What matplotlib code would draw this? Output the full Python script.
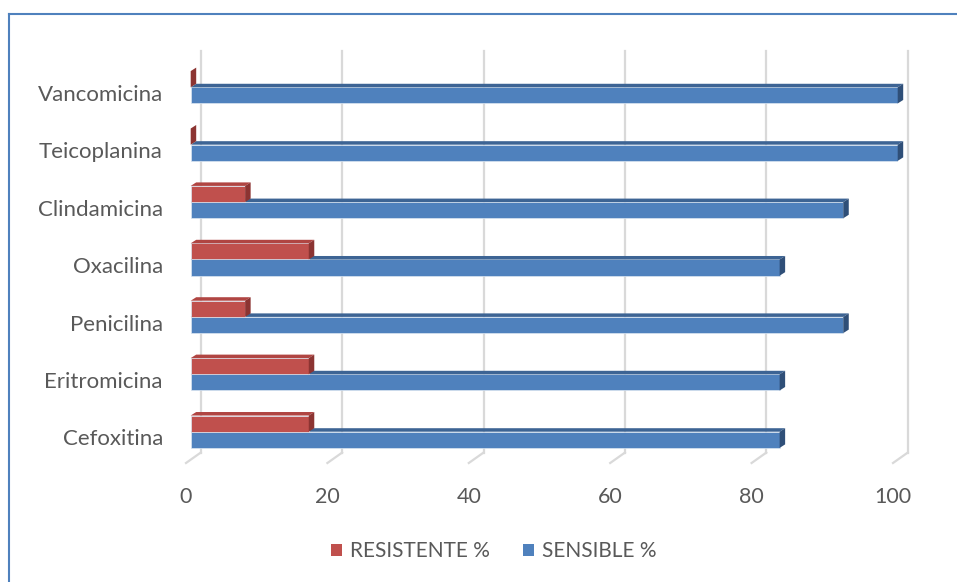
import numpy as np
import matplotlib
matplotlib.use("Agg")
import matplotlib.pyplot as plt
from matplotlib.patches import Polygon, Rectangle
from matplotlib.lines import Line2D
from matplotlib import transforms

antibiotics = ["Cefoxitina", "Eritromicina", "Penicilina", "Oxacilina",
               "Clindamicina", "Teicoplanina", "Vancomicina"]
resistente = [16.7, 16.7, 7.7, 16.7, 7.7, 0, 0]
sensible = [83.3, 83.3, 92.3, 83.3, 92.3, 100, 100]
x_ticks = [0, 20, 40, 60, 80, 100]

W, H = 957, 582
# axes box (bar plane) in pixels, measured from top-left
ax_l, ax_r, ax_t, ax_b = 190.7, 897.7, 58, 459.6
ylim = (-0.486, 6.51)

fig = plt.figure(figsize=(W / 100, H / 100), dpi=100)
ax = fig.add_axes([ax_l / W, 1 - ax_b / H, (ax_r - ax_l) / W, (ax_b - ax_t) / H])
ax.set_xlim(0, 100)
ax.set_ylim(*ylim)
for s in ax.spines.values():
    s.set_visible(False)

# pixel -> data conversion
ux = 100 / (ax_r - ax_l)
uy = (ylim[1] - ylim[0]) / (ax_b - ax_t)

grid_c = "#D9D9D9"
# back plane offset (+10, +7 px), front plane offset (-4.7, -3.4 px)
for t in x_ticks:
    ax.plot([t + 10 * ux, t + 10 * ux], [ylim[0] + 7 * uy, ylim[1] + 7 * uy],
            color=grid_c, lw=1.6, clip_on=False, zorder=0)
    ax.plot([t - 4.7 * ux, t + 10 * ux], [ylim[0] - 3.4 * uy, ylim[0] + 7 * uy],
            color=grid_c, lw=1.6, clip_on=False, zorder=0)

h = 0.282
dx, dy = 5.5 * ux, 3.5 * uy
y = np.arange(len(antibiotics))


def bar3d(ypos, vals, front, top, side, z):
    ax.barh(ypos, vals, height=h, color=front, edgecolor="#DCE6F2", linewidth=0.5,
            zorder=z)
    for yy, v in zip(ypos, vals):
        yt = yy + h / 2
        yb = yy - h / 2
        ax.add_patch(Polygon([(0, yt), (v, yt), (v + dx, yt + dy), (dx, yt + dy)],
                             closed=True, fc=top, ec="none", zorder=z, clip_on=False))
        ax.add_patch(Polygon([(v, yb), (v + dx, yb + dy), (v + dx, yt + dy), (v, yt)],
                             closed=True, fc=side, ec="none", zorder=z, clip_on=False))


bar3d(y - h / 2, sensible, "#4F81BD", "#3D6494", "#2F4F78", 2)
bar3d(y + h / 2, resistente, "#C0504D", "#B04542", "#8C3432", 3)

txt_c = "#595959"
font = "Lato"
ax.set_yticks(y - 0.1)
ax.set_yticklabels(antibiotics, fontsize=16, color=txt_c, family=font)
ax.tick_params(axis="y", length=0, pad=20)
ax.set_xticks(x_ticks)
ax.set_xticklabels([str(t) for t in x_ticks], fontsize=15.5, color=txt_c, family=font)
ax.tick_params(axis="x", length=0, pad=20)
shift = transforms.ScaledTranslation(-4.7 / 100, 0, fig.dpi_scale_trans)
for lab in ax.get_xticklabels():
    lab.set_transform(lab.get_transform() + shift)

# legend
handles = [Rectangle((0, 0), 1, 1, fc="#C0504D"), Rectangle((0, 0), 1, 1, fc="#4F81BD")]
leg = fig.legend(handles, ["RESISTENTE %", "SENSIBLE %"], loc="center",
                 bbox_to_anchor=(494 / W, 1 - 551 / H), ncol=2, frameon=False,
                 prop={"family": font, "size": 15}, handlelength=0.5,
                 handleheight=0.5, handletextpad=0.4, columnspacing=1.6)
for t in leg.get_texts():
    t.set_color(txt_c)

# chart border
bc = "#4F81BD"
fig.add_artist(Line2D([9 / W, 1], [1 - 14 / H, 1 - 14 / H], color=bc, lw=1.5))
fig.add_artist(Line2D([9 / W, 9 / W], [0, 1 - 14 / H], color=bc, lw=1.5))

fig.savefig("out.png", dpi=100)
